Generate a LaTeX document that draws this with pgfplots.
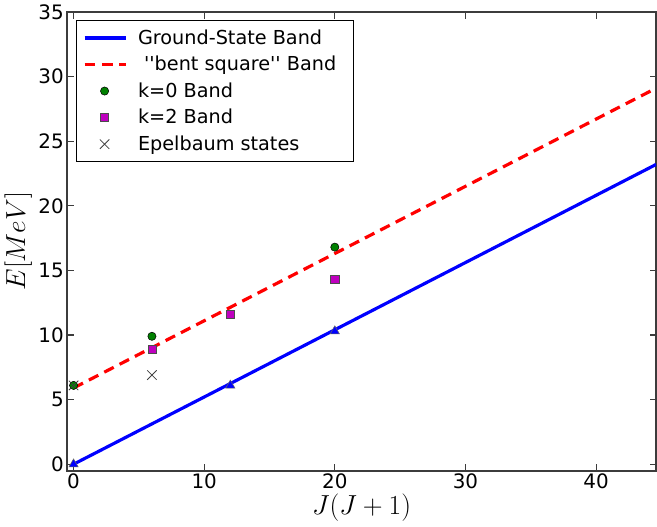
\documentclass[border=0pt]{standalone}
\usepackage{fontspec}
\setmainfont{DejaVu Sans}[Ligatures=TeXOff]
\usepackage{pgfplots}
\pgfplotsset{compat=1.18}
\definecolor{mplgreen}{RGB}{0,128,0}
\definecolor{mplmag}{RGB}{191,0,191}
\definecolor{axgray}{RGB}{60,60,60}

% longer legend samples, as in matplotlib
\pgfplotsset{
  longline/.style={legend image code/.code={\draw[##1] (0pt,0pt) -- (31pt,0pt);}},
  longmark/.style={legend image code/.code={\draw[##1, draw opacity=0] (0pt,0pt) -- (31pt,0pt);
      \path[##1] plot coordinates {(15pt,0pt)};}},
}

\begin{document}
\begin{tikzpicture}
\begin{axis}[
  scale only axis, width=444pt, height=345.75pt,
  xmin=-0.5, xmax=44.6, ymin=-0.5, ymax=35,
  xtick={0,10,20,30,40}, ytick={0,5,10,15,20,25,30,35},
  tick align=inside, major tick length=5pt,
  axis line style={axgray, line width=1.3pt},
  every tick/.style={axgray, line width=0.8pt},
  tick label style={font=\fontsize{15}{17}\selectfont},
  xticklabel style={yshift=1pt}, yticklabel style={xshift=1pt},
  /pgf/number format/assume math mode=true,
  xlabel={$J(J+1)$}, ylabel={$E[MeV]$},
  label style={font=\fontsize{20}{22}\selectfont},
  xlabel style={yshift=3pt}, ylabel style={yshift=-2pt},
  legend style={at={(0.015,0.983)}, anchor=north west, draw=black, line width=0.9pt,
    font=\fontsize{14.5}{17}\selectfont, row sep=3.5pt, inner xsep=5pt, inner ysep=5pt,
    nodes={inner xsep=8pt}},
  legend cell align=left,
]
\addplot[blue, line width=2.4pt, longline] coordinates {(0,0)(44.6,23.2)};
\addlegendentry{Ground-State Band}
\addplot[red, line width=2.4pt, dash pattern=on 8pt off 5pt, longline] coordinates {(0,5.9)(44.6,29.1)};
\addlegendentry{\ \char39\char39 bent square\char39\char39\ Band}
\addplot[only marks, mark=*, mark size=3.1pt, mark options={fill=mplgreen, draw=black, line width=0.4pt}, longmark] coordinates {(0,6.1)(6,9.9)(20,16.8)};
\addlegendentry{k=0 Band}
\addplot[only marks, mark=square*, mark size=3.1pt, mark options={fill=mplmag, draw=black!70, line width=0.4pt}, longmark] coordinates {(6,8.9)(12,11.6)(20,14.3)};
\addlegendentry{k=2 Band}
\addplot[only marks, mark=x, mark size=5pt, mark options={draw=black!75, line width=0.6pt}, longmark] coordinates {(0,6.1)(6,6.9)};
\addlegendentry{Epelbaum states}
\addplot[forget plot, only marks, mark=triangle*, mark size=4pt, mark options={fill=blue, draw=black!60, line width=0.4pt}] coordinates {(0,0)(12,6.1)(20,10.3)};
\end{axis}
\end{tikzpicture}
\end{document}
